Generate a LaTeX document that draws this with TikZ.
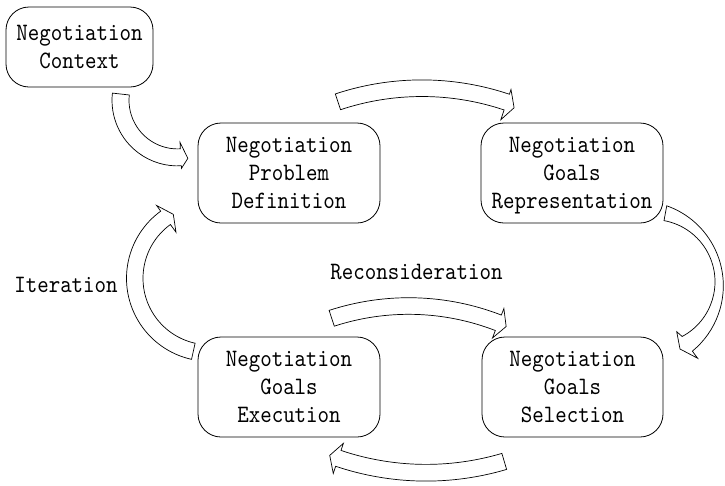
\documentclass[tikz,border=0pt]{standalone}
\usepackage{fontspec}
\setmonofont[FakeStretch=0.875]{lmmono10-regular.otf}
\usetikzlibrary{calc}
\begin{document}
\begin{tikzpicture}[x=1pt, y=-1pt,
  stagebox/.style={draw=black, line width=0.8pt, rounded corners=23pt, inner sep=0pt,
    align=center, text depth=0pt, font=\ttfamily\fontsize{25}{28}\selectfont},
  caption/.style={anchor=base, inner sep=0pt, font=\ttfamily\fontsize{25}{28}\selectfont},
  blockarrow/.style={draw=black, fill=white, line width=0.7pt, line join=miter}]
\useasboundingbox (0,0) rectangle (725,485);

% stages of the negotiation cycle
\node[stagebox, minimum width=147pt, minimum height=80pt] (ctx) at (79.5,47) {Negotiation\\Context};
\node[stagebox, minimum width=182pt, minimum height=100pt] (pd) at (289,173) {Negotiation\\Problem\\Definition};
\node[stagebox, minimum width=182pt, minimum height=100pt] (gr) at (572,173) {Negotiation\\Goals\\Representation};
\node[stagebox, minimum width=182pt, minimum height=100pt] (ge) at (289,387) {Negotiation\\Goals\\Execution};
\node[stagebox, minimum width=181pt, minimum height=100pt] (gs) at (572.5,387) {Negotiation\\Goals\\Selection};

% labels of the two feedback paths
\node[caption] (iter) at (66,292) {Iteration};
\node[caption] (recons) at (416.5,279) {Reconsideration};

% centres of the curved block arrows
\coordinate (cA) at (177.6,100.3);
\coordinate (cB) at (421.9,354.3);
\coordinate (cCo) at (638.6,285.7);
\coordinate (cCi) at (652.9,281.7);
\coordinate (cD) at (408.7,553.9);
\coordinate (cE) at (426.1,197.6);
\coordinate (cF) at (209.5,278.3);

% context -> problem definition
\draw[blockarrow] ($(cA)+(186.3:65.6)$) arc[start angle=186.3, end angle=86.7, radius=65.6]
  -- ($(cA)+(86.7:68.1)$) -- ($(cA)+(80:59)$) -- ($(cA)+(86.7:42.1)$)
  -- ($(cA)+(86.7:48.6)$) arc[start angle=86.7, end angle=186.3, radius=48.6] -- cycle;

% problem definition -> goals representation
\draw[blockarrow] ($(cB)+(251.6:274.4)$) arc[start angle=251.6, end angle=288.6, radius=274.4]
  -- ($(cB)+(288.6:279.4)$) -- ($(cB)+(290.5:263.2)$) -- ($(cB)+(288.6:247.6)$)
  -- ($(cB)+(288.6:257.8)$) arc[start angle=288.6, end angle=251.6, radius=257.8] -- cycle;

% goals representation -> goals selection (body narrows towards the middle)
\draw[blockarrow] ($(cCo)+(289.4:84.7)$) arc[start angle=289.4, end angle=410.6, radius=84.7]
  -- (697.7,358.3) -- (680,349) -- (676.7,331.7)
  -- ($(cCi)+(421.9:62.1)$) arc[start angle=421.9, end angle=280.3, radius=62.1] -- cycle;

% reconsideration: goals execution -> goals selection
\draw[blockarrow] ($(cD)+(251.9:256.2)$) arc[start angle=251.9, end angle=291.2, radius=256.2]
  -- ($(cD)+(291.2:263.2)$) -- ($(cD)+(293.2:247.4)$) -- ($(cD)+(291.2:231.6)$)
  -- ($(cD)+(291.2:239.6)$) arc[start angle=291.2, end angle=251.9, radius=239.6] -- cycle;

% goals selection -> goals execution
\draw[blockarrow] ($(cE)+(73.5:266.8)$) arc[start angle=73.5, end angle=108.6, radius=266.8]
  -- ($(cE)+(108.6:259.3)$) -- ($(cE)+(110.5:275.2)$) -- ($(cE)+(108.6:291.1)$)
  -- ($(cE)+(108.6:283.5)$) arc[start angle=108.6, end angle=73.5, radius=283.5] -- cycle;

% iteration: goals execution -> problem definition
\draw[blockarrow] ($(cF)+(102.5:83)$) arc[start angle=102.5, end angle=234, radius=83]
  -- ($(cF)+(234:90)$) -- ($(cF)+(240.5:73.5)$) -- ($(cF)+(234:57)$)
  -- ($(cF)+(234:66.5)$) arc[start angle=234, end angle=102.5, radius=66.5] -- cycle;
\end{tikzpicture}
\end{document}
